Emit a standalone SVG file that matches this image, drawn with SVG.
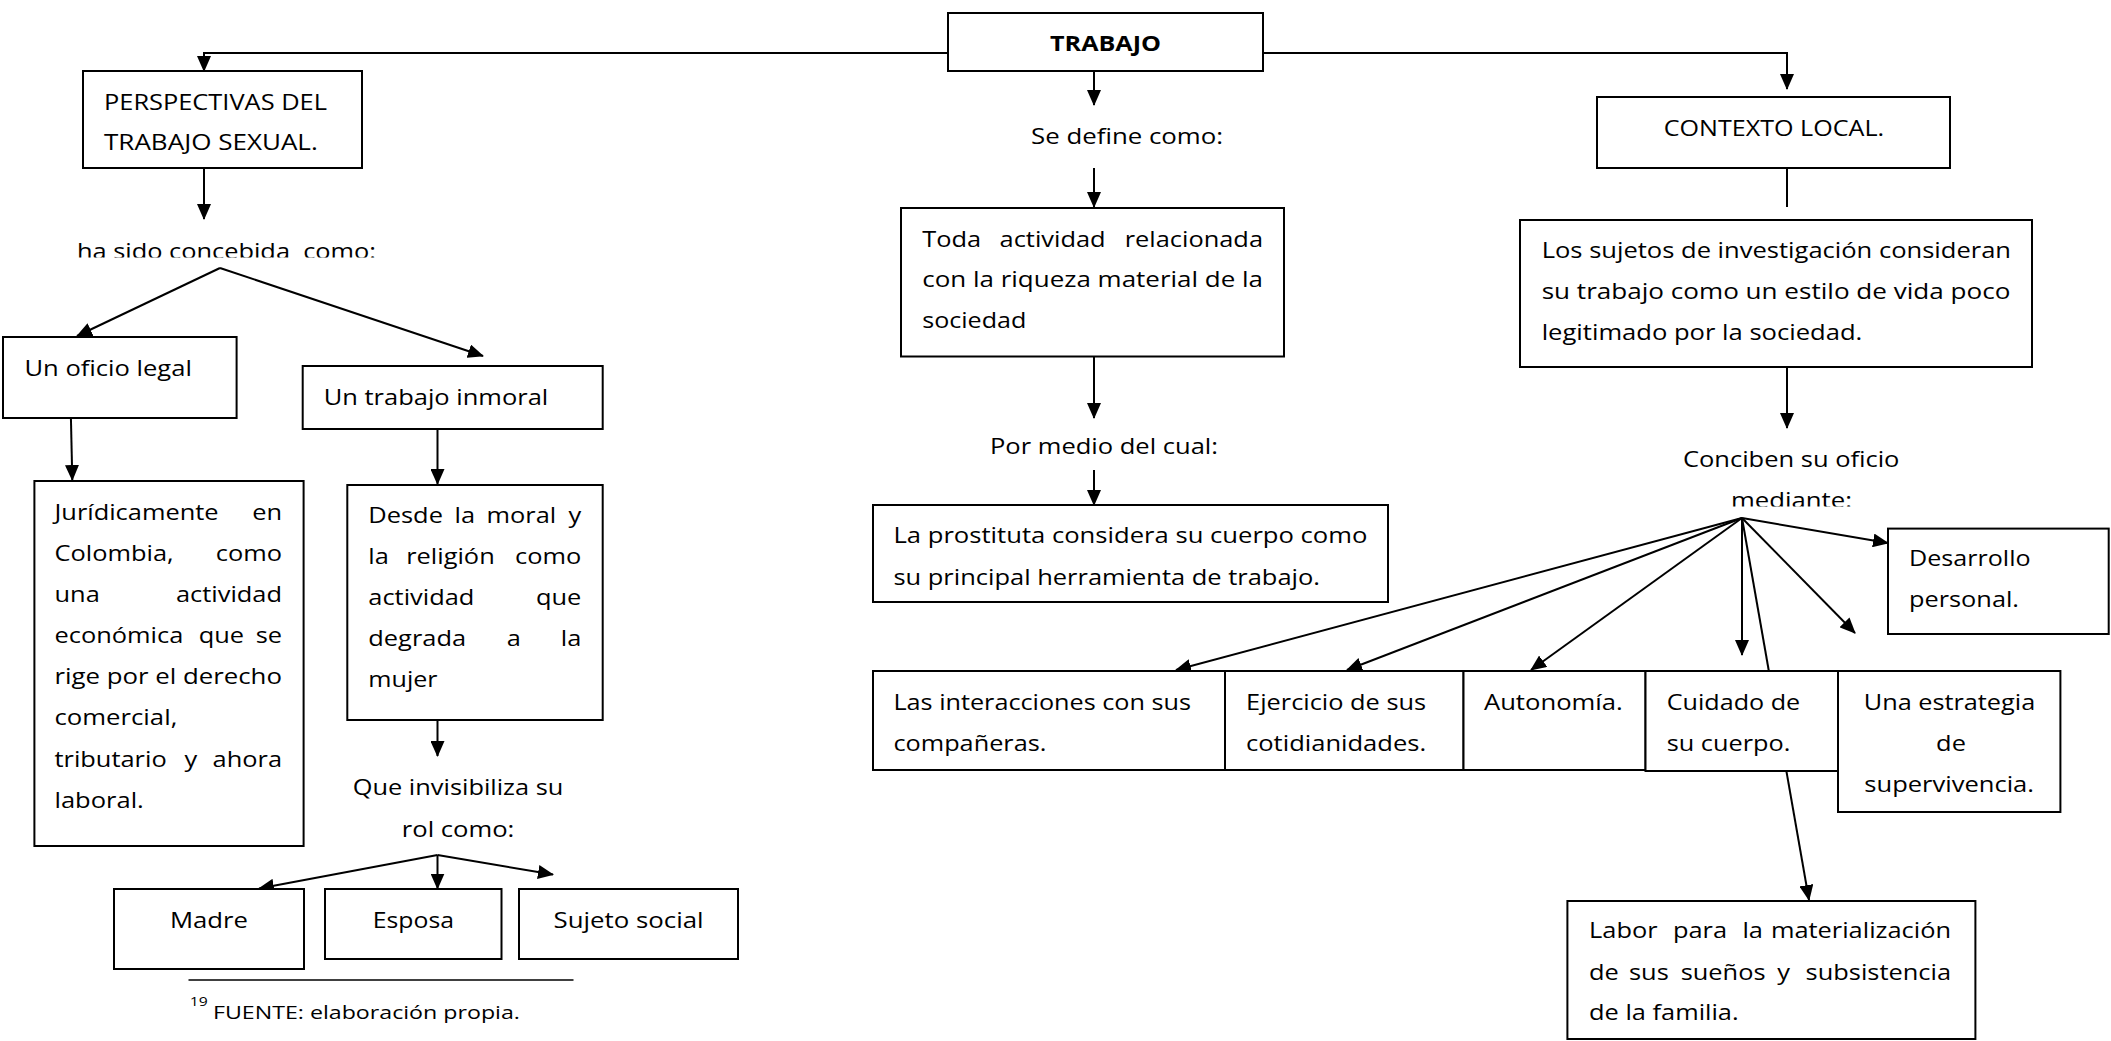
<svg xmlns="http://www.w3.org/2000/svg" width="2111" height="1041" viewBox="0 0 2111 1041">
<style>
.box{fill:#fff;stroke:#000;stroke-width:2}
.c{fill:none;stroke:#000;stroke-width:2}
.t{font-family:"Open Sans","Liberation Sans",sans-serif;font-size:21px;fill:#000}
.b{font-weight:700;font-size:22px}
</style>
<defs>
<marker id="arr" markerUnits="userSpaceOnUse" markerWidth="16" markerHeight="14" refX="15" refY="7" orient="auto"><path d="M0,0 L16,7 L0,14 z" fill="#000"/></marker>
<clipPath id="clipHa"><rect x="0" y="200" width="600" height="57.5"/></clipPath>
<clipPath id="clipMed"><rect x="1600" y="450" width="400" height="56.5"/></clipPath>
</defs>
<rect width="2111" height="1041" fill="#fff"/>

<g id="connectors">
<path class="c" d="M948,53 H204 V71" marker-end="url(#arr)"/>
<path class="c" d="M1263,53 H1787 V89" marker-end="url(#arr)"/>
<path class="c" d="M1094,71 V105" marker-end="url(#arr)"/>
<path class="c" d="M1094,168 V207" marker-end="url(#arr)"/>
<path class="c" d="M1094,356 V418" marker-end="url(#arr)"/>
<path class="c" d="M1094,470 V505" marker-end="url(#arr)"/>
<path class="c" d="M204,168 V219" marker-end="url(#arr)"/>
<path class="c" d="M220,268 L77,336" marker-end="url(#arr)"/>
<path class="c" d="M220,268 L483,356" marker-end="url(#arr)"/>
<path class="c" d="M70.5,399 L72.3,480" marker-end="url(#arr)"/>
<path class="c" d="M437.5,429 V484" marker-end="url(#arr)"/>
<path class="c" d="M437.5,720 V756" marker-end="url(#arr)"/>
<path class="c" d="M437.5,855 L259,888.5" marker-end="url(#arr)"/>
<path class="c" d="M437.5,855 V888.5" marker-end="url(#arr)"/>
<path class="c" d="M437.5,855 L553,874.5" marker-end="url(#arr)"/>
<path class="c" d="M1787,168 V207"/>
<path class="c" d="M1787,367 V428" marker-end="url(#arr)"/>
<path class="c" d="M1742,518 L1176,670" marker-end="url(#arr)"/>
<path class="c" d="M1742,518 L1347,670" marker-end="url(#arr)"/>
<path class="c" d="M1742,518 L1531,670" marker-end="url(#arr)"/>
<path class="c" d="M1742,518 V655" marker-end="url(#arr)"/>
<path class="c" d="M1742,518 L1809,900" marker-end="url(#arr)"/>
<path class="c" d="M1742,518 L1855,633" marker-end="url(#arr)"/>
<path class="c" d="M1742,518 L1888,543" marker-end="url(#arr)"/>
<line x1="188.5" y1="980" x2="573.5" y2="980" stroke="#000" stroke-width="1.3"/>
</g>

<g id="trabajo">
<rect class="box" x="948" y="13" width="315" height="58"/>
<text class="t b" transform="scale(1.21 1)" x="867.77" y="51.4" textLength="91.74" lengthAdjust="spacingAndGlyphs">TRABAJO</text>
</g>

<g id="perspectivas">
<rect class="box" x="83" y="71" width="279" height="97"/>
<g class="t" transform="scale(1.21 1)">
<text x="85.95" y="110" textLength="184.3" lengthAdjust="spacingAndGlyphs">PERSPECTIVAS DEL</text>
<text x="85.95" y="150" textLength="176.7" lengthAdjust="spacingAndGlyphs">TRABAJO SEXUAL.</text>
</g>
</g>

<g id="ha-sido" clip-path="url(#clipHa)">
<text class="t" transform="scale(1.21 1)" x="63.64" y="259.5" textLength="247.1" lengthAdjust="spacingAndGlyphs" xml:space="preserve" style="white-space:pre">ha sido concebida  como:</text>
</g>

<g id="oficio-legal">
<rect class="box" x="3" y="337" width="233.6" height="81"/>
<text class="t" transform="scale(1.21 1)" x="20.25" y="376" textLength="138.3" lengthAdjust="spacingAndGlyphs">Un oficio legal</text>
</g>

<g id="trabajo-inmoral">
<rect class="box" x="302.7" y="366" width="300" height="63"/>
<text class="t" transform="scale(1.21 1)" x="267.5" y="405" textLength="185.6" lengthAdjust="spacingAndGlyphs">Un trabajo inmoral</text>
</g>

<g id="juridicamente">
<rect class="box" x="34.4" y="481" width="269.2" height="365"/>
<g class="t" transform="scale(1.21 1)">
<text y="520"><tspan x="45.04">Jurídicamente</tspan><tspan x="233.06" text-anchor="end">en</tspan></text>
<text y="561.1"><tspan x="45.04">Colombia,</tspan><tspan x="233.06" text-anchor="end">como</tspan></text>
<text y="602.2"><tspan x="45.04">una</tspan><tspan x="233.06" text-anchor="end">actividad</tspan></text>
<text y="643.3"><tspan x="45.04">económica</tspan><tspan x="164.2">que</tspan><tspan x="233.06" text-anchor="end">se</tspan></text>
<text x="45.04" y="684.4" textLength="188" lengthAdjust="spacingAndGlyphs">rige por el derecho</text>
<text x="45.04" y="725.5" textLength="101.5" lengthAdjust="spacingAndGlyphs">comercial,</text>
<text y="766.6"><tspan x="45.04">tributario</tspan><tspan x="152.4">y</tspan><tspan x="233.06" text-anchor="end">ahora</tspan></text>
<text x="45.04" y="807.7" textLength="73.8" lengthAdjust="spacingAndGlyphs">laboral.</text>
</g>
</g>

<g id="desde">
<rect class="box" x="347.3" y="485" width="255.4" height="235"/>
<g class="t" transform="scale(1.21 1)">
<text y="523.5"><tspan x="304.4">Desde</tspan><tspan x="375.6">la</tspan><tspan x="402.1">moral</tspan><tspan x="480.4" text-anchor="end">y</tspan></text>
<text y="564.5"><tspan x="304.4">la</tspan><tspan x="335.7">religión</tspan><tspan x="480.4" text-anchor="end">como</tspan></text>
<text y="605.5"><tspan x="304.4">actividad</tspan><tspan x="480.4" text-anchor="end">que</tspan></text>
<text y="646.5"><tspan x="304.4">degrada</tspan><tspan x="418.8">a</tspan><tspan x="480.4" text-anchor="end">la</tspan></text>
<text x="304.4" y="687.5" textLength="57.2" lengthAdjust="spacingAndGlyphs">mujer</text>
</g>
</g>

<g id="que-invisibiliza" class="t" transform="scale(1.21 1)">
<text x="291.5" y="795.5" textLength="174.1" lengthAdjust="spacingAndGlyphs">Que invisibiliza su</text>
<text x="332.1" y="837" textLength="93" lengthAdjust="spacingAndGlyphs">rol como:</text>
</g>

<g id="madre">
<rect class="box" x="114" y="889" width="190" height="80"/>
<text class="t" transform="scale(1.21 1)" x="140.5" y="928" textLength="64.5" lengthAdjust="spacingAndGlyphs">Madre</text>
</g>
<g id="esposa">
<rect class="box" x="325" y="889" width="176.5" height="70"/>
<text class="t" transform="scale(1.21 1)" x="308.1" y="928" textLength="67.1" lengthAdjust="spacingAndGlyphs">Esposa</text>
</g>
<g id="sujeto-social">
<rect class="box" x="519" y="889" width="219" height="70"/>
<text class="t" transform="scale(1.21 1)" x="457.5" y="928" textLength="124" lengthAdjust="spacingAndGlyphs">Sujeto social</text>
</g>

<g id="footnote" class="t" transform="scale(1.21 1)">
<text x="156.8" y="1006" style="font-size:13px">19</text>
<text x="176" y="1019" style="font-size:18.5px" textLength="253.7" lengthAdjust="spacingAndGlyphs">FUENTE: elaboración propia.</text>
</g>

<g id="se-define">
<text class="t" transform="scale(1.21 1)" x="852.1" y="144.3" textLength="158.7" lengthAdjust="spacingAndGlyphs">Se define como:</text>
</g>

<g id="toda-actividad">
<rect class="box" x="901" y="208" width="383" height="148.5"/>
<g class="t" transform="scale(1.21 1)">
<text y="247"><tspan x="762.2">Toda</tspan><tspan x="826.1">actividad</tspan><tspan x="1043.8" text-anchor="end">relacionada</tspan></text>
<text x="762.2" y="287.5" textLength="281.6" lengthAdjust="spacingAndGlyphs">con la riqueza material de la</text>
<text x="762.2" y="328" textLength="86" lengthAdjust="spacingAndGlyphs">sociedad</text>
</g>
</g>

<g id="por-medio">
<text class="t" transform="scale(1.21 1)" x="818.2" y="454.5" textLength="188.4" lengthAdjust="spacingAndGlyphs">Por medio del cual:</text>
</g>

<g id="prostituta">
<rect class="box" x="873" y="505" width="515" height="97"/>
<g class="t" transform="scale(1.21 1)">
<text x="738.4" y="543" textLength="391.7" lengthAdjust="spacingAndGlyphs">La prostituta considera su cuerpo como</text>
<text x="738.4" y="585" textLength="352.5" lengthAdjust="spacingAndGlyphs">su principal herramienta de trabajo.</text>
</g>
</g>

<g id="interacciones">
<rect class="box" x="873" y="671" width="352" height="99"/>
<g class="t" transform="scale(1.21 1)">
<text x="738.4" y="710" textLength="245.9" lengthAdjust="spacingAndGlyphs">Las interacciones con sus</text>
<text x="738.4" y="751" textLength="126.4" lengthAdjust="spacingAndGlyphs">compañeras.</text>
</g>
</g>

<g id="ejercicio">
<rect class="box" x="1225" y="671" width="238.5" height="99"/>
<g class="t" transform="scale(1.21 1)">
<text x="1029.8" y="710" textLength="148.8" lengthAdjust="spacingAndGlyphs">Ejercicio de sus</text>
<text x="1029.8" y="751" textLength="148.8" lengthAdjust="spacingAndGlyphs">cotidianidades.</text>
</g>
</g>

<g id="autonomia">
<rect class="box" x="1463.5" y="671" width="182" height="99"/>
<text class="t" transform="scale(1.21 1)" x="1226.4" y="710" textLength="114.7" lengthAdjust="spacingAndGlyphs">Autonomía.</text>
</g>

<g id="cuidado">
<rect class="box" x="1645.5" y="671" width="192.5" height="100"/>
<g class="t" transform="scale(1.21 1)">
<text x="1377.5" y="710" textLength="110.2" lengthAdjust="spacingAndGlyphs">Cuidado de</text>
<text x="1377.5" y="751" textLength="102.1" lengthAdjust="spacingAndGlyphs">su cuerpo.</text>
</g>
</g>

<g id="estrategia">
<rect class="box" x="1838" y="671" width="222.4" height="141"/>
<g class="t" transform="scale(1.21 1)">
<text x="1540.3" y="710" textLength="141.7" lengthAdjust="spacingAndGlyphs">Una estrategia</text>
<text x="1612.4" y="751" text-anchor="middle">de</text>
<text x="1540.8" y="792" textLength="140.2" lengthAdjust="spacingAndGlyphs">supervivencia.</text>
</g>
</g>

<g id="desarrollo">
<rect class="box" x="1888" y="528.6" width="220.7" height="105.4"/>
<g class="t" transform="scale(1.21 1)">
<text x="1577.7" y="566" textLength="100.5" lengthAdjust="spacingAndGlyphs">Desarrollo</text>
<text x="1577.7" y="607.5" textLength="90.9" lengthAdjust="spacingAndGlyphs">personal.</text>
</g>
</g>

<g id="labor">
<rect class="box" x="1567.4" y="901" width="408" height="138"/>
<g class="t" transform="scale(1.21 1)">
<text y="938.5"><tspan x="1313.3">Labor</tspan><tspan x="1382.6">para</tspan><tspan x="1440">la</tspan><tspan x="1612.4" text-anchor="end">materialización</tspan></text>
<text y="980"><tspan x="1313.3">de</tspan><tspan x="1346.3">sus</tspan><tspan x="1389">sueños</tspan><tspan x="1468.8">y</tspan><tspan x="1612.4" text-anchor="end">subsistencia</tspan></text>
<text x="1313.3" y="1020.5" textLength="123.6" lengthAdjust="spacingAndGlyphs">de la familia.</text>
</g>
</g>

<g id="contexto-local">
<rect class="box" x="1597" y="97" width="353" height="71"/>
<text class="t" transform="scale(1.21 1)" x="1375" y="136" textLength="182.1" lengthAdjust="spacingAndGlyphs">CONTEXTO LOCAL.</text>
</g>

<g id="sujetos">
<rect class="box" x="1520" y="220" width="512" height="147"/>
<g class="t" transform="scale(1.21 1)">
<text x="1274.1" y="258" textLength="387.9" lengthAdjust="spacingAndGlyphs">Los sujetos de investigación consideran</text>
<text x="1274.1" y="299" textLength="387.4" lengthAdjust="spacingAndGlyphs">su trabajo como un estilo de vida poco</text>
<text x="1274.1" y="340" textLength="265" lengthAdjust="spacingAndGlyphs">legitimado por la sociedad.</text>
</g>
</g>

<g id="conciben">
<text class="t" transform="scale(1.21 1)" x="1390.9" y="467.5" textLength="178.9" lengthAdjust="spacingAndGlyphs">Conciben su oficio</text>
<g clip-path="url(#clipMed)">
<text class="t" transform="scale(1.21 1)" x="1430.6" y="508.5" textLength="100" lengthAdjust="spacingAndGlyphs">mediante:</text>
</g>
</g>
</svg>
